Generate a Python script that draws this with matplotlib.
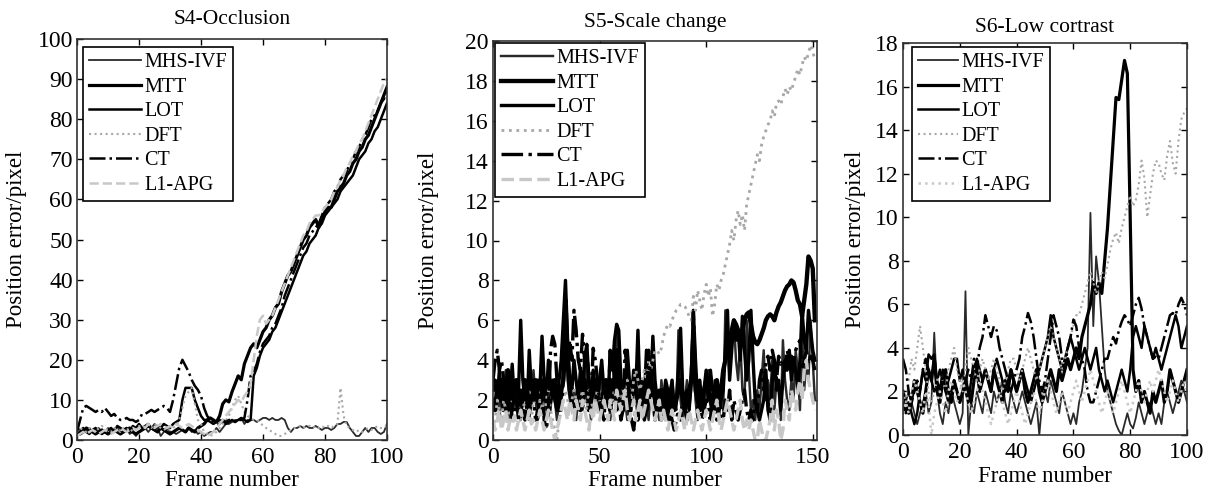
import numpy as np
import matplotlib
matplotlib.use('Agg')
import matplotlib.pyplot as plt

plt.rcParams['font.family'] = 'Liberation Serif'

# --------------------------- data ---------------------------
names = ['MHS-IVF', 'MTT', 'LOT', 'DFT', 'CT', 'L1-APG']

# S4-Occlusion, frames 0..100
s4_mhs = [3, 2.5, 2, 2, 3, 2, 2.5, 3, 2, 2,
          3, 2, 2.5, 3, 2, 2, 3, 1.5, 2, 1,
          2, 2.5, 3, 2, 3, 4, 3, 1, 2, 3,
          2, 2, 1.5, 2, 2.5, 2, 3, 2, 2.5, 1.5,
          2, 1, 1.5, 2, 2, 3, 2, 3, 4, 4,
          4.5, 5, 5, 5.5, 4, 5, 5, 5, 4.5, 5,
          5.5, 5.5, 5, 5.5, 5, 5, 5.5, 5, 3, 2,
          3, 3, 3.5, 3, 3.5, 3, 3, 3.5, 3, 2.5,
          3, 3, 2.5, 3, 4, 4, 4.5, 4.5, 3, 2,
          1, 1, 2, 3, 2, 3, 3, 2, 1.5, 2, 4]
s4_mtt = [2, 1.5, 2, 3, 2.5, 2, 1.5, 2, 2.5, 2,
          1.5, 2, 2.5, 2, 1.5, 2, 2.5, 3, 2, 1.5,
          2, 2.5, 3, 3.5, 3, 2.5, 2, 3, 2.5, 2,
          1.5, 2, 2.5, 3, 2.5, 2, 3, 2.5, 2, 3,
          3.5, 4, 5, 5.5, 5, 4.5, 6, 9, 10, 9.5,
          12, 14, 16, 15, 19, 21, 23, 24, 23, 25,
          27, 28, 30, 31, 33, 34, 37, 39, 41, 42,
          44, 46, 48, 50, 51, 53, 54, 55, 53, 55,
          57, 58, 58, 60, 62, 63, 64, 66, 67, 69,
          70, 72, 73, 75, 76, 78, 80, 82, 84, 86, 88]
s4_lot = [1.5, 2, 3, 2, 1.5, 2.5, 3, 2, 1.5, 2,
          2.5, 3, 2, 3.5, 3, 2.5, 3, 2, 3.5, 3,
          4, 3, 3.5, 4, 3, 2.5, 3.5, 3, 4, 3.5,
          3, 4, 4.5, 5, 10, 13, 13, 13, 10, 8,
          6, 5, 5, 4.5, 4, 4.5, 5, 4.5, 4, 4.5,
          5, 4.5, 5, 5.5, 5, 4.5, 5, 16, 18, 21,
          23, 24, 25, 27, 28, 30, 32, 34, 36, 38,
          40, 42, 44, 46, 47, 49, 50, 51, 53, 54,
          56, 57, 58, 59, 60, 62, 63, 64, 65, 66,
          68, 70, 71, 72, 74, 75, 77, 78, 80, 82, 84]
s4_dft = [2, 3, 2.5, 2, 3, 2.5, 2, 3, 3.5, 3,
          2.5, 2, 3, 2.5, 2, 3, 2.5, 3, 2, 3,
          3.5, 3, 4, 3.5, 3, 4, 3.5, 3, 2.5, 3,
          2.5, 3, 3.5, 5, 8, 11, 12, 13, 9, 5,
          4, 2, 1.5, 1, 1.5, 2, 3, 4, 5, 6,
          8, 10, 11, 9, 7, 6, 5.5, 5, 5, 4.5,
          3.5, 3, 2.5, 2, 1.5, 1, 1, 1.5, 2, 2.5,
          3, 3, 3.5, 3, 3.5, 3.5, 3, 3.5, 3, 3.5,
          3, 3.5, 3, 3.5, 4, 13, 6, 3.5, 3, 2.5,
          2, 2.5, 2, 2.5, 3, 2.5, 3, 3.5, 3, 3, 3.5]
s4_ct = [2, 5, 8, 8.5, 8, 7.5, 7, 7.5, 7, 8,
         7, 6, 6.5, 5.5, 5, 5, 5.5, 5, 5, 4.5,
         5, 6.5, 6.5, 7, 7.5, 7, 7.5, 8, 8.5, 8,
         7, 10, 14, 18, 20, 18.5, 17, 15, 13.5, 12.5,
         11, 8, 6, 5, 4.5, 4, 4, 5, 4.5, 5,
         5, 4.5, 5, 5, 5.5, 10, 16, 17, 19, 22,
         24, 25, 26, 28, 29, 31, 33, 36, 38, 40,
         42, 44, 46, 48, 49, 51, 52, 53, 54, 56,
         58, 59, 60, 62, 63, 65, 66, 67, 69, 70,
         72, 73, 75, 76, 78, 80, 81, 82, 84, 85, 87]
s4_l1 = [1, 1.5, 2, 1.5, 2, 2.5, 2, 1.5, 2, 2.5,
         2, 1.5, 2, 2.5, 3, 2.5, 2, 2.5, 3, 2.5,
         3, 3.5, 3, 4, 3.5, 3, 3.5, 4, 3.5, 3,
         3.5, 3, 4, 3.5, 3, 3.5, 4, 3.5, 3, 2.5,
         2, 1.5, 1, 1.5, 2, 3, 4, 5, 6, 7,
         8, 9, 10, 9.5, 11, 12, 14, 20, 26, 30,
         31, 29, 30, 31, 33, 35, 37, 39, 41, 43,
         45, 47, 49, 51, 52, 54, 55, 56, 56, 57,
         58, 59, 60, 62, 63, 65, 66, 68, 69, 71,
         72, 74, 75, 77, 79, 81, 83, 85, 87, 89, 90]

# S5-Scale change, frames 0..151
s5_mhs = [1.5, 2, 3, 1, 2.5, 1.5, 3.5, 2, 1, 2,
          3, 1.5, 2, 1, 2.5, 3, 1.5, 1, 2, 3.5,
          2, 1, 1.5, 3, 2, 1, 2.5, 1.5, 3, 2,
          1, 2, 1.5, 4, 6.5, 3, 2, 1.5, 2.5, 1,
          2, 3, 1.5, 2, 4.5, 2, 1, 3, 2, 1.5,
          2.5, 3, 1.5, 2, 3, 1, 2, 4, 5.5, 2,
          1.5, 3, 2, 1, 2.5, 1.5, 3, 2, 1, 2,
          3, 1.5, 2, 1, 2.5, 3.5, 1.5, 2, 1, 3,
          2, 1.5, 1, 2.5, 3, 2, 1.5, 5.5, 2, 1,
          2, 3, 1.5, 2.5, 6.5, 2, 1, 3, 2, 1.5,
          2.5, 3.5, 2, 1.5, 3, 2, 1, 2.5, 1.5, 6.5,
          5, 3, 5.5, 6, 4, 3, 5, 2.5, 2, 6,
          3.5, 1.5, 2, 1, 2.5, 1.5, 3, 4.5, 2, 3,
          2, 4, 1.5, 3, 2.5, 1, 5, 3, 2, 1.5,
          3, 2, 4.5, 3.5, 1.5, 5.5, 2.5, 4, 3, 6,
          4, 2]
s5_mtt = [2, 1.5, 2.5, 2, 3, 1.5, 2, 3.5, 2.5, 1.5,
          2.5, 3, 2, 1.5, 2, 3, 2.5, 1.5, 2, 2.5,
          3, 2, 1.5, 2.5, 3, 2, 1.5, 2, 2.5, 3,
          2, 1.5, 2.5, 3, 7, 4, 2.5, 2, 1.5, 2,
          2.5, 1.5, 2, 3, 2.5, 1.5, 2, 2.5, 3, 2,
          1.5, 2, 2.5, 3, 2, 1.5, 3, 2, 4.5, 2.5,
          2, 1.5, 2.5, 2, 1.5, 2, 3, 2.5, 2, 1.5,
          2, 2.5, 1.5, 2, 3, 2.5, 2, 1.5, 2, 2.5,
          1.5, 2, 2.5, 1, 2, 1.5, 2, 2.5, 3, 2,
          1.5, 2, 2.5, 3, 5, 2.5, 2, 1.5, 2, 2.5,
          3, 2.5, 2, 1.5, 2.5, 3, 2, 2.5, 3.5, 4,
          4.5, 5, 5.5, 6, 5.8, 5.5, 5.2, 5.5, 6, 6.3,
          6.4, 5.8, 5.2, 4.9, 4.8, 5, 5.3, 5.6, 6, 6.2,
          6.3, 6.2, 6, 6.4, 6.7, 6.9, 7.2, 7.5, 7.7, 7.8,
          8, 7.9, 7.5, 7, 6.8, 6.2, 7, 7.8, 9.2, 9,
          8.6, 6]
s5_lot = [2.5, 3, 2, 3.5, 2, 1.5, 2.5, 3, 2, 3.8,
          2, 3, 2.5, 6, 3, 2, 1.5, 4.5, 2.5, 3,
          2, 3, 2.5, 5.2, 3, 2, 4, 2.5, 3, 2,
          1.5, 3, 4, 6, 8, 5, 3, 2.5, 4, 3,
          2, 3.5, 2.5, 4, 4.8, 3, 2, 3.5, 2.5, 2,
          3, 4, 2.5, 3, 2, 4.5, 3.5, 5, 5.8, 5.5,
          3, 2, 2.5, 4.5, 3, 2, 3.5, 2.5, 5.5, 2,
          3, 2, 4.5, 3, 2.5, 5.2, 3, 2, 2.5, 1.5,
          2, 3, 2.5, 2, 3, 1.5, 2, 3.5, 5.6, 2.5,
          2, 2.5, 1.5, 3, 6.5, 4, 2, 3, 1.5, 2.5,
          3.5, 2, 3.5, 2.5, 2, 3, 1.5, 2, 2.5, 4.5,
          6.5, 3, 4.5, 6, 5, 5.5, 4, 6.2, 4.5, 3,
          4, 6.5, 4, 2, 1.5, 1, 1.5, 2, 3.5, 1.5,
          1, 3, 4, 2.5, 3, 1.5, 3, 4, 3.5, 4.5,
          3, 4, 3.5, 2.5, 4, 6.5, 5, 4.5, 6.5, 5.5,
          4.5, 4]
s5_dft = [0.5, 1, 2, 1.5, 1, 2, 1.5, 1, 2, 1.5,
          1, 1.5, 2, 1, 1.5, 2, 1, 1.5, 1, 2,
          1.5, 1, 2, 1.5, 1, 2, 2.5, 1.5, 1, 0.5,
          0, 1, 1.5, 2, 2.5, 2, 1.5, 2, 2.5, 2,
          1.5, 2, 2.5, 2, 1.5, 2.5, 2, 1.5, 2, 2.5,
          2, 1.5, 2, 2.5, 2, 1.5, 2, 2.5, 2, 1.5,
          2, 2.5, 2, 3, 2.5, 2, 3, 3.5, 3, 2.5,
          3, 3.5, 3, 4, 3.5, 4, 4.5, 4.5, 4.3, 4.6,
          5.2, 5.5, 5.8, 5.7, 6, 6.3, 6.5, 6.6, 6.8, 6.8,
          6.7, 6.5, 6.2, 6, 7.2, 6.5, 7.5, 7, 6.5, 7.3,
          7.8, 7.2, 7.6, 6.2, 6.8, 7.8, 7.5, 8, 8.3, 8.8,
          9.3, 9.8, 10.5, 10, 11, 11.5, 10.8, 11.3, 10.5, 11.8,
          12.3, 12.8, 13.3, 13.8, 14.3, 14, 14.8, 15.2, 15.5, 15.8,
          16, 16.5, 16.2, 16.9, 17, 16.8, 17.2, 17.6, 17.3, 17.7,
          17.5, 17.9, 18.2, 18.6, 18.3, 18.8, 19.2, 19, 19.4, 19.8,
          19.5, 19]
s5_ct = [3, 4, 4.5, 3.5, 4, 3, 2, 1.5, 2.5, 1,
         1.5, 2, 1, 2.5, 1.5, 1, 2, 1.5, 3, 2,
         1, 1.5, 2, 3, 1, 0.5, 1.5, 4.5, 5.2, 4.8,
         3, 2, 1.5, 3, 4, 3.5, 5, 4, 6.5, 5.5,
         4, 3.5, 5.3, 4, 4.6, 3, 2, 4.6, 4, 3,
         2, 1.5, 1, 2.5, 1.5, 4.5, 4.3, 3, 1.5, 2,
         1, 1.5, 4.5, 3.5, 2, 1, 0.5, 1.5, 1, 2,
         1.5, 1, 1.5, 4.5, 3, 2, 1, 1.5, 2, 1,
         1.5, 1, 2, 1.5, 1, 0.5, 1, 1.5, 1, 2,
         1.5, 1, 2, 3, 6.4, 3, 1.5, 2, 1, 1.5,
         2, 1.5, 1, 2.5, 1.5, 1, 2, 1.5, 1, 2,
         1.5, 2.5, 1, 2, 1.5, 1, 1.5, 2, 2.5, 1.5,
         1, 1.5, 1, 2, 1.5, 3, 3.5, 2.5, 4, 4.2,
         3.5, 4.5, 4, 3, 4.2, 3.8, 4, 3.5, 4.5, 4,
         4.2, 3.8, 4.5, 4.8, 5, 3.5, 4, 4.5, 3.8, 4.2,
         4, 3.5]
s5_l1 = [1, 0.5, 1, 1.5, 0.5, 1, 1.5, 0.5, 1, 0.8,
         1.2, 0.5, 1, 1.5, 1, 0.5, 1, 1.5, 0.8, 1,
         0.5, 1, 1.5, 1, 0.5, 1, 1.5, 1, 0.5, 0,
         0.5, 1, 1.5, 2, 1.5, 1, 2, 1.5, 1, 2,
         1.5, 1, 2, 1.5, 1, 0.5, 1.5, 1, 2, 1.5,
         1, 1.5, 2, 1.5, 1, 2, 1.5, 1, 2.5, 2,
         1.5, 2, 2.5, 1.5, 1, 1.5, 2, 1, 1.5, 2,
         1, 1.5, 2, 2.5, 2, 1.5, 1, 1.5, 2, 1,
         1.5, 1, 0.5, 1, 1.5, 1, 0.5, 1, 1.5, 1,
         0.5, 1, 1.5, 1, 0.5, 1, 1.5, 1, 0.5, 1,
         1.5, 1, 0.5, 1, 1.5, 2, 1, 0.5, 1, 1.5,
         2, 1.5, 1, 0.5, 1, 1.5, 2, 1, 0.5, 1,
         0.5, 1, 0.5, 0, 0, 1, 0.5, 0, 0, 0.5,
         1, 2, 0.5, 1.5, 1, 0, 0.5, 2, 1.5, 1,
         2.5, 2, 1.5, 2.5, 3, 2, 3.5, 4, 3, 2.5,
         2, 1.5]

# S6-Low cortrast, frames 0..100
s6_mhs = [1, 1.5, 2, 1.5, 1, 0.5, 1, 1.5, 2, 1,
          1.5, 4.7, 2, 1, 0.5, 1.5, 1, 2, 1.5, 1,
          0.5, 1, 6.6, 0, 1.5, 1, 2, 1.5, 1, 2,
          1.5, 1, 2, 1.5, 2, 2.5, 1.5, 1, 2, 1.5,
          1, 1.5, 2, 1.5, 1, 0.5, 1, 1.5, 0, 1.5,
          2, 1.5, 2.5, 2, 1.5, 1, 2, 1.5, 1, 0.5,
          1, 0.5, 1.5, 2, 3, 4, 10.2, 5, 8.2, 7,
          5, 3, 2, 1.5, 1, 0.5, 0.2, 0, 0.5, 1,
          0.5, 0.3, 0.8, 1.5, 1, 0.5, 1, 1.5, 1, 0.5,
          1, 0.5, 1.5, 2, 1.5, 1, 1.5, 2, 2.5, 2, 1.5]
s6_mtt = [2, 1.5, 1, 1.5, 2.5, 2, 1.5, 1, 2, 3,
          2.5, 3.5, 2, 1.5, 2.5, 3, 2, 1.5, 2.5, 2,
          1.5, 2, 2.5, 2, 1.5, 2.5, 3, 2, 2.5, 3,
          2.5, 2, 3, 2.5, 2, 1.5, 2.5, 2, 3, 2.5,
          2, 2.5, 3, 2, 1.5, 2, 2.5, 3, 2, 1.5,
          2, 2.5, 3, 2.5, 2, 3, 2.5, 3, 3.5, 3,
          3.5, 4, 3.5, 4.5, 5, 5.5, 6, 7, 6.5, 7,
          6.5, 8, 9.5, 11.5, 13.5, 15.5, 15.4, 16.3, 17.2, 16.6,
          10, 3, 2, 2.5, 1.5, 2, 1.5, 1, 2, 1.5,
          2, 2.5, 1.5, 2, 3, 2.5, 2, 1.5, 2, 2.5, 3]
s6_lot = [1.5, 1, 1.5, 1, 0.5, 1, 2, 3, 2.5, 3.7,
          3.5, 3.7, 2.5, 2, 3, 2, 2.5, 3, 3.5, 3.5,
          2.5, 3, 2, 1.5, 2.5, 3, 3.5, 3, 2.5, 3,
          2.5, 2, 3, 3.5, 3, 2.5, 2, 2.5, 3, 2.5,
          2, 2.5, 3, 2.5, 2, 1.5, 2, 2.5, 3, 3.5,
          4, 4.5, 5.5, 4.5, 4, 3.5, 3, 3.5, 4, 4.5,
          4, 3.5, 3, 3.5, 4, 3.5, 3, 3.5, 4, 3,
          2.5, 2, 2.5, 2, 1.5, 2, 2.5, 3, 2.5, 2,
          3, 4.5, 5, 4.5, 4, 5, 4.5, 4, 3.5, 4,
          3.5, 3, 3.5, 4, 4.5, 5, 5.5, 5, 4, 4.5, 5]
s6_dft = [2, 1.5, 2.5, 3.5, 3, 4, 5, 4, 3, 2,
          1.5, 2, 2.5, 3, 2.5, 2, 3, 3.5, 4, 3,
          2.5, 2, 3, 4, 3.5, 3, 2.5, 3, 3.5, 3,
          2.5, 3, 3.5, 3, 2.5, 2, 2.5, 3, 3.5, 3.5,
          3, 2.5, 3, 3.5, 4, 3.5, 3, 2.5, 3, 3.5,
          4, 4.5, 5, 4.5, 4, 3.5, 3, 3.5, 4, 4.5,
          5, 5.5, 5.5, 6, 6.5, 7, 7.5, 7, 6.5, 7,
          7.5, 7.2, 7.8, 8.5, 9, 9.3, 8.8, 9.5, 10, 10.5,
          11, 10.5, 10.8, 11.5, 12.6, 11.8, 10, 11, 12, 12.6,
          12.5, 12, 11.7, 12.8, 13.5, 12.5, 12, 13.5, 14.5, 14.8, 15]
s6_ct = [3.5, 3, 2, 1.5, 2, 2.5, 2, 3, 3.5, 3,
         2.5, 2, 2.5, 3, 2.5, 2, 1.5, 2, 2.5, 2,
         1.5, 2, 2.5, 3, 2.5, 3.5, 3, 4, 4.5, 5.5,
         5, 4.5, 5, 4.8, 4, 3.5, 3, 2.5, 2, 2.5,
         3, 3.5, 4.5, 5, 5.6, 5.2, 4.5, 3.5, 2.5, 2,
         2.5, 3.5, 4.5, 5.5, 5, 4.5, 3.5, 3, 4, 4.5,
         5.3, 5, 4, 3.5, 3, 2, 1.5, 1.5, 2, 2.5,
         3, 3.5, 3.5, 4, 4.5, 4.2, 4.8, 5.2, 5.5, 5.3,
         5, 5.5, 6, 6.3, 5.8, 5, 4.5, 4, 3.5, 3.6,
         3.5, 4, 4.5, 5, 5.5, 5.6, 5.5, 6, 6.3, 6, 5.5]
s6_l1 = [1, 1.5, 1, 2, 2.5, 2, 1.5, 1, 2, 1.5,
         0, 1, 1.5, 2, 1.5, 1, 2, 2.5, 2, 1.5,
         2, 2.5, 2, 1.5, 1, 1.5, 2, 2.5, 2, 1.5,
         1, 0.5, 1, 1.5, 2, 1.5, 1, 0.5, 1, 1.5,
         2, 1.5, 1, 0.5, 1, 1.5, 2, 1.5, 1, 1.5,
         2, 2.5, 2, 1.5, 1, 1.5, 2, 1.5, 1, 1.5,
         2, 2.5, 2, 1.5, 2, 2.5, 3, 2.5, 2, 1.5,
         1, 1.5, 2, 1.5, 1, 1.5, 2, 2.5, 2, 1.5,
         1, 1.5, 2, 2.5, 2, 1.5, 2, 2.5, 2, 2.5,
         3, 2.5, 2, 1.5, 2, 2.5, 2, 1.5, 2, 2.5, 2]

panels = [
    ('S4-Occlusion', [s4_mhs, s4_mtt, s4_lot, s4_dft, s4_ct, s4_l1],
     (0, 100), (0, 100), np.arange(0, 101, 20), np.arange(0, 101, 10)),
    ('S5-Scale change', [s5_mhs, s5_mtt, s5_lot, s5_dft, s5_ct, s5_l1],
     (0, 152), (0, 20), [0, 50, 100, 150], np.arange(0, 21, 2)),
    ('S6-Low cortrast', [s6_mhs, s6_mtt, s6_lot, s6_dft, s6_ct, s6_l1],
     (0, 100), (0, 18), np.arange(0, 101, 20), np.arange(0, 19, 2)),
]

# line styles: MHS-IVF, MTT, LOT, DFT, CT, L1-APG
styles = [
    dict(color='#2a2a2a', lw=1.3, ls='-'),
    dict(color='black', lw=2.3, ls='-'),
    dict(color='black', lw=1.8, ls='-'),
    dict(color='#a8a8a8', lw=1.5, ls=':'),
    dict(color='black', lw=1.8, ls='-.'),
    dict(color='#c8c8c8', lw=1.8, ls='--'),
]

# per-panel layout (pixels measured on the 1210x495 reference)
boxes = [
    [77/1210, 55/495, 310/1210, 401/495],
    [493/1210, 55/495, 324/1210, 399/495],
    [903/1210, 60/495, 284/1210, 392/495],
]
title_pad = [11, 10, 8]
ylab_x = [-0.16, -0.167, -0.13]
xlab_y = [-0.075, -0.075, -0.08]
leg_anchor = [(0.019, 0.98), (0.006, 0.995), (0.032, 0.99)]
leg_hlen = [2.6, 2.6, 2.0]
lw_scale = [1.0, 1.35, 1.0]

fig = plt.figure(figsize=(12.1, 4.95), dpi=100)

for k, (title, series, xl, yl, xt, yt) in enumerate(panels):
    ax = fig.add_axes(boxes[k])
    for j, vals in enumerate(series):
        st = dict(styles[j])
        st['lw'] = st['lw'] * lw_scale[k]
        if k == 2 and j == 5:
            st['ls'] = ':'
        frames = np.arange(len(vals))
        ax.plot(frames, vals, label=names[j], **st)
    ax.set_xlim(xl)
    ax.set_ylim(yl)
    ax.set_xticks(xt)
    ax.set_yticks(yt)
    ax.tick_params(direction='in', top=True, right=True, labelsize=17,
                   length=4, width=1)
    ax.tick_params(axis='x', pad=5)
    ax.tick_params(axis='y', pad=3)
    for sp in ax.spines.values():
        sp.set_linewidth(1.2)
        sp.set_color('#333333')
    ax.set_title(title, fontsize=15.5, pad=title_pad[k])
    ax.set_xlabel('Frame number', fontsize=16.5)
    ax.set_ylabel('Position error/pixel', fontsize=16.5)
    ax.xaxis.set_label_coords(0.5, xlab_y[k])
    ax.yaxis.set_label_coords(ylab_x[k], 0.5)
    leg = ax.legend(loc='upper left', fontsize=14.5, handlelength=leg_hlen[k],
                    handletextpad=0.15, labelspacing=0.27, borderpad=0.3,
                    borderaxespad=0, fancybox=False, framealpha=1,
                    edgecolor='black', bbox_to_anchor=leg_anchor[k])
    leg.get_frame().set_linewidth(1.2)

fig.savefig('out.png', dpi=100)
